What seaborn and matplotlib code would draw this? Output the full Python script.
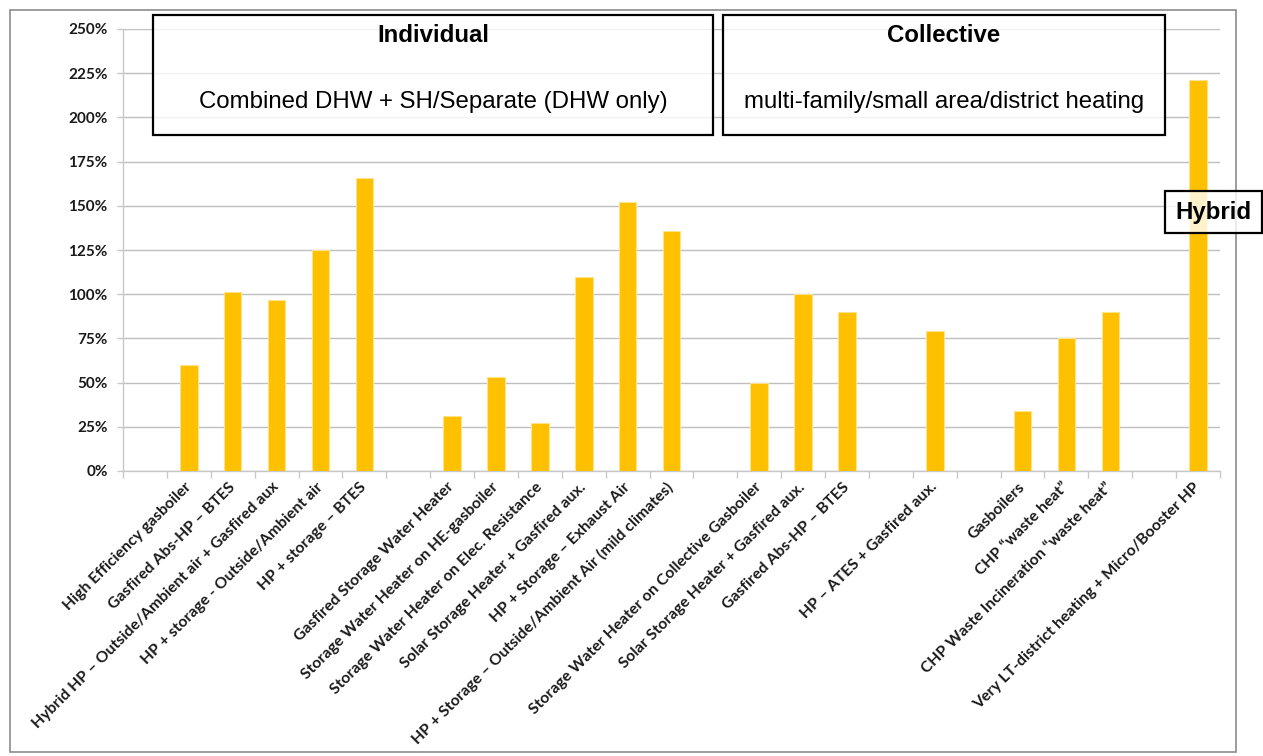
import numpy as np
import pandas as pd
import matplotlib
matplotlib.use("Agg")
import matplotlib.pyplot as plt
from matplotlib.patches import Rectangle
from matplotlib.ticker import FixedLocator, FuncFormatter
import seaborn as sns

# Category slots along the x axis; empty strings are spacer slots between groups
labels = [
    "",
    "High Efficiency gasboiler",
    "Gasfired Abs-HP \u2013 BTES",
    "Hybrid HP \u2013 Outside/Ambient air + Gasfired aux",
    "HP + storage - Outside/Ambient air",
    "HP + storage \u2013 BTES",
    "",
    "Gasfired Storage Water Heater",
    "Storage Water Heater on HE-gasboiler",
    "Storage Water Heater on Elec. Resistance",
    "Solar Storage Heater + Gasfired aux.",
    "HP + Storage \u2013 Exhaust Air",
    "HP + Storage \u2013 Outside/Ambient Air (mild climates)",
    "",
    "Storage Water Heater on Collective Gasboiler",
    "Solar Storage Heater + Gasfired aux.",
    "Gasfired Abs-HP \u2013 BTES",
    "",
    "HP \u2013 ATES + Gasfired aux.",
    "",
    "Gasboilers",
    "CHP \u201cwaste heat\u201d",
    "CHP Waste Incineration \u201cwaste heat\u201d",
    "",
    "Very LT-district heating + Micro/Booster HP",
]

# Values in percent (NaN = spacer slot)
values = [
    np.nan, 60, 101, 97, 125, 166,
    np.nan, 31, 53, 27, 110, 152, 136,
    np.nan, 50, 100, 90,
    np.nan, 79,
    np.nan, 34, 75, 90,
    np.nan, 221,
]

y_ticks = [0, 25, 50, 75, 100, 125, 150, 175, 200, 225, 250]

slots = [f"slot{i:02d}" for i in range(len(labels))]
df = pd.DataFrame({"slot": slots, "value": values}).dropna()

W, H = 1263, 756
fig = plt.figure(figsize=(W / 100, H / 100), dpi=100)
fig.patch.set_facecolor("white")


def fx(px):
    return px / W


def fy(py):
    return 1 - py / H


ax = fig.add_axes([fx(123), fy(471), fx(1220) - fx(123), fy(29) - fy(471)])

sns.barplot(data=df, x="slot", y="value", order=slots, color="#FFC000",
            width=0.4, saturation=1, edgecolor="#FFE38A", linewidth=0.8,
            ax=ax, zorder=3)

ax.set_xlim(-0.5, len(slots) - 0.5)
ax.set_ylim(0, 250)
ax.set_xlabel("")
ax.set_ylabel("")

# grid and spines
ax.yaxis.set_major_locator(FixedLocator(y_ticks))
ax.yaxis.set_major_formatter(FuncFormatter(lambda v, p: f"{int(v)}%"))
ax.grid(axis="y", color="#BFBFBF", linewidth=1.0, zorder=0)
ax.grid(axis="x", visible=False)
ax.set_axisbelow(True)
for side in ["top", "right"]:
    ax.spines[side].set_visible(False)
ax.spines["left"].set_color("#C8C8C8")
ax.spines["bottom"].set_color("#C8C8C8")
ax.spines["left"].set_linewidth(1.0)
ax.spines["bottom"].set_linewidth(1.0)

tick_font = "Lato"
ax.tick_params(axis="y", length=4, width=1.0, color="#C8C8C8", pad=7,
               labelsize=11, labelcolor="#1a1a1a")
for t in ax.get_yticklabels():
    t.set_fontfamily(tick_font)
    t.set_fontweight("bold")

# category boundaries as tick marks, labels at slot centres
ax.set_xticks(np.arange(len(slots)))
ax.set_xticks(np.arange(len(slots) + 1) - 0.5, minor=True)
ax.tick_params(axis="x", which="minor", length=5, width=1.0, color="#C8C8C8")
ax.tick_params(axis="x", which="major", length=0, pad=10)
ax.set_xticklabels(labels, rotation=45, ha="right", va="center",
                   rotation_mode="anchor", fontsize=11.3, fontweight="bold",
                   fontfamily=tick_font, color="#1a1a1a")

# outer chart frame
fig.add_artist(Rectangle((fx(10), fy(752)), fx(1236) - fx(10), fy(10) - fy(752),
                         transform=fig.transFigure, fill=False,
                         edgecolor="#8C8C8C", linewidth=1.2, zorder=1))

box_font = "Liberation Sans"


def group_box(x0, y0, x1, y1, title=None, subtitle=None, title_y=None, sub_y=None):
    fig.add_artist(Rectangle((fx(x0), fy(y1)), fx(x1) - fx(x0), fy(y0) - fy(y1),
                             transform=fig.transFigure, facecolor=(1, 1, 1, 0.8),
                             edgecolor="black", linewidth=1.6, zorder=5))
    cx = fx((x0 + x1) / 2)
    if title:
        fig.text(cx, fy(title_y), title, ha="center", va="center", fontsize=17.3,
                 fontweight="bold", fontfamily=box_font, color="black", zorder=6)
    if subtitle:
        fig.text(cx, fy(sub_y), subtitle, ha="center", va="center", fontsize=17.3,
                 fontfamily=box_font, color="black", zorder=6)


group_box(153, 15, 713, 135, "Individual", "Combined DHW + SH/Separate (DHW only)", 35, 102)
group_box(723, 15, 1165, 135, "Collective", "multi-family/small area/district heating", 35, 102)
group_box(1165, 191, 1262, 233, "Hybrid", None, 212, None)

fig.savefig("out.png", dpi=100, facecolor="white")
